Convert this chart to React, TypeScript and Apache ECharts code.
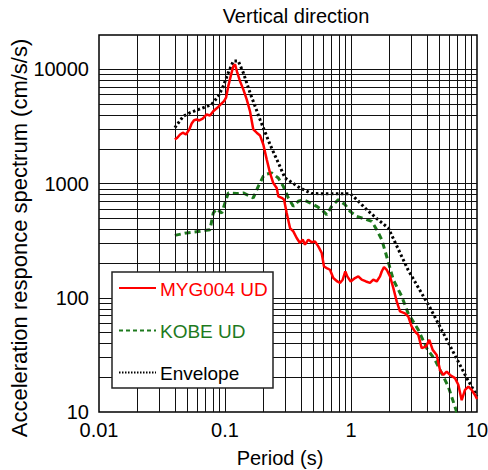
import React, { useEffect, useRef } from "react";
import * as echarts from "echarts";

const mygPeriod = [0.04, 0.0418, 0.044, 0.0462, 0.049, 0.0521, 0.0544, 0.0568, 0.0596, 0.0625, 0.0665, 0.0716, 0.076, 0.0807, 0.0869, 0.0924, 0.0982, 0.1019, 0.1062, 0.111, 0.1164, 0.1201, 0.1252, 0.1315, 0.1397, 0.1487, 0.1579, 0.1677, 0.1785, 0.1896, 0.2014, 0.2143, 0.2276, 0.2416, 0.2572, 0.2649, 0.2818, 0.2939, 0.3088, 0.3281, 0.3484, 0.3707, 0.3937, 0.4137, 0.4314, 0.4581, 0.4875, 0.5176, 0.55, 0.5853, 0.6105, 0.6414, 0.6813, 0.7235, 0.7786, 0.8179, 0.8593, 0.9011, 0.9346, 0.9945, 1.076, 1.143, 1.216, 1.315, 1.415, 1.503, 1.6, 1.699, 1.753, 1.828, 1.92, 2.04, 2.166, 2.305, 2.448, 2.683, 2.85, 3.031, 3.221, 3.421, 3.64, 3.937, 4.181, 4.451, 4.787, 5.086, 5.401, 5.746, 6.107, 6.69, 7.107, 7.56, 8.031, 8.546, 9.077, 9.641, 10];
const mygAccel = [2430, 2520, 2690, 2790, 2690, 2980, 3360, 3590, 3640, 3570, 3700, 4030, 3950, 4300, 4610, 4930, 5270, 5650, 7130, 8730, 10700, 11070, 9350, 7890, 6680, 5460, 4300, 2980, 2790, 2640, 2200, 1630, 1240, 1010, 916, 774, 750, 724, 553, 408, 382, 334, 302, 323, 292, 323, 306, 312, 282, 247, 188, 182, 176, 149, 139, 135, 144, 170, 154, 139, 149, 154, 144, 139, 135, 144, 139, 154, 170, 186, 176, 154, 122, 93, 76, 73, 68.5, 56, 50.6, 47.3, 36.2, 37.4, 42.8, 35, 31.6, 23.3, 21.1, 22.6, 21.1, 19.8, 17.3, 12.7, 15.6, 16.7, 15.6, 14.1, 13];

const kobePeriod = [0.04, 0.0497, 0.0633, 0.076, 0.0807, 0.0859, 0.0942, 0.1, 0.1062, 0.1239, 0.1397, 0.1677, 0.1838, 0.2014, 0.2077, 0.2348, 0.2649, 0.2902, 0.318, 0.3484, 0.3817, 0.4182, 0.4727, 0.5342, 0.5853, 0.6414, 0.7028, 0.7929, 0.8962, 0.982, 1.11, 1.332, 1.46, 1.6, 1.753, 1.92, 2.166, 2.526, 2.835, 3.421, 3.99, 4.642, 5.246, 5.918, 6.903, 7.2];
const kobeAccel = [352, 370, 382, 395, 553, 600, 553, 678, 828, 817, 828, 750, 946, 1160, 1200, 1240, 1120, 946, 750, 632, 700, 724, 678, 632, 592, 535, 632, 724, 655, 571, 517, 483, 467, 395, 323, 230, 144, 103, 73.4, 52.4, 36.2, 28.6, 21.8, 16.7, 10, 9];

const envPeriod = [0.04, 0.0467, 0.0527, 0.0784, 0.0885, 0.0969, 0.1062, 0.1164, 0.1275, 0.1397, 0.1579, 0.1896, 0.2276, 0.2649, 0.2994, 0.3937, 0.4875, 0.99, 1.11, 1.332, 1.64, 1.977, 2.835, 4.24, 6.107, 8.284, 10];
const envAccel = [3085, 3890, 4170, 4930, 5830, 7130, 9350, 11830, 11830, 9350, 6250, 3640, 2200, 1520, 1120, 916, 817, 815, 724, 592, 483, 408, 176, 81.7, 37.9, 19.9, 13.8];

const xTickLabels = ["0.01", "0.1", "1", "10"];
const yTickLabels = ["10", "100", "1000", "10000"];
const xGridValues = [0.02, 0.03, 0.04, 0.05, 0.06, 0.07, 0.08, 0.09, 0.1, 0.2, 0.3, 0.4, 0.5, 0.6, 0.7, 0.8, 0.9, 1, 2, 3, 4, 5, 6, 7, 8, 9];
const yGridValues = [20, 30, 40, 50, 60, 70, 80, 90, 100, 200, 300, 400, 500, 600, 700, 800, 900, 1000, 2000, 3000, 4000, 5000, 6000, 7000, 8000, 9000, 10000];

const seriesNames = ["MYG004 UD", "KOBE UD", "Envelope"];
const RED = "#ff0000";
const GREEN = "#1e7a1e";
const FONT = '"Liberation Sans", Arial, sans-serif';

function pairs(xs: number[], ys: number[]) {
  return xs.map((x, i) => [x, ys[i]]);
}

function labelFor(list: string[]) {
  return (v: number) => {
    const hit = list.find((s) => Math.abs(Math.log10(parseFloat(s)) - Math.log10(v)) < 1e-6);
    return hit ?? "";
  };
}

export default function App() {
  const ref = useRef<HTMLDivElement>(null);
  useEffect(() => {
    document.body.style.margin = "0";
    const chart = echarts.init(ref.current!, null, { renderer: "svg" });
    const legendX = 112;
    const legendY = 272;
    const rows = [288, 330.5, 372.5];
    const option: any = {
      animation: false,
      textStyle: { fontFamily: FONT },
      grid: {
        left: 99,
        right: 11,
        top: 35,
        bottom: 58,
        show: true,
        borderColor: "#000",
        borderWidth: 1.5,
        backgroundColor: "transparent",
        containLabel: false,
        outerBoundsMode: "none",
      },
      xAxis: {
        type: "log",
        logBase: 10,
        min: 0.01,
        max: 10,
        axisLine: { show: false },
        axisTick: { show: false },
        splitLine: { show: false },
        axisLabel: { fontSize: 20, color: "#000", margin: 8, formatter: labelFor(xTickLabels), fontFamily: FONT },
      },
      yAxis: {
        type: "log",
        logBase: 10,
        min: 10,
        max: 20000,
        axisLine: { show: false },
        axisTick: { show: false },
        splitLine: { show: false },
        axisLabel: { fontSize: 20, color: "#000", margin: 10, formatter: labelFor(yTickLabels), fontFamily: FONT },
      },
      series: [
        {
          name: "grid",
          type: "line",
          data: [],
          silent: true,
          z: 1,
          markLine: {
            silent: true,
            symbol: ["none", "none"],
            label: { show: false },
            lineStyle: { color: "#111", width: 1, type: "solid" },
            emphasis: { disabled: true },
            data: [
              ...xGridValues.map((v) => ({ xAxis: v })),
              ...yGridValues.map((v) => ({ yAxis: v })),
            ],
          },
        },
        {
          name: seriesNames[2],
          type: "line",
          data: pairs(envPeriod, envAccel),
          showSymbol: false,
          symbol: "none",
          z: 3,
          lineStyle: { color: "#000", width: 3, type: [2.5, 2.5], cap: "butt" },
        },
        {
          name: seriesNames[1],
          type: "line",
          data: pairs(kobePeriod, kobeAccel),
          showSymbol: false,
          symbol: "none",
          z: 4,
          lineStyle: { color: GREEN, width: 3, type: [6, 4], cap: "butt" },
        },
        {
          name: seriesNames[0],
          type: "line",
          data: pairs(mygPeriod, mygAccel),
          showSymbol: false,
          symbol: "none",
          z: 5,
          lineStyle: { color: RED, width: 2.5 },
        },
      ],
      graphic: [
        {
          type: "text",
          x: 296,
          y: 15.5,
          z: 100,
          style: { text: "Vertical direction", font: `20px ${FONT}`, fill: "#000", align: "center", verticalAlign: "middle" },
        },
        {
          type: "text",
          x: 280,
          y: 457.5,
          z: 100,
          style: { text: "Period (s)", font: `20px ${FONT}`, fill: "#000", align: "center", verticalAlign: "middle" },
        },
        {
          type: "text",
          x: 19,
          y: 238,
          rotation: Math.PI / 2,
          z: 100,
          style: { text: "Acceleration responce spectrum (cm/s/s)", font: `22px ${FONT}`, fill: "#000", align: "center", verticalAlign: "middle" },
        },
        {
          type: "rect",
          z: 100,
          shape: { x: legendX, y: legendY, width: 161, height: 116 },
          style: { fill: "#fff", stroke: "#222", lineWidth: 1.5 },
        },
        {
          type: "line",
          z: 101,
          shape: { x1: 119, y1: rows[0], x2: 156, y2: rows[0] },
          style: { stroke: RED, lineWidth: 2 },
        },
        {
          type: "text",
          z: 101,
          x: 160,
          y: rows[0] + 1,
          style: { text: seriesNames[0], font: `19px ${FONT}`, fill: RED, align: "left", verticalAlign: "middle" },
        },
        {
          type: "line",
          z: 101,
          shape: { x1: 119, y1: rows[1], x2: 156, y2: rows[1] },
          style: { stroke: GREEN, lineWidth: 2, lineDash: [4, 3] },
        },
        {
          type: "text",
          z: 101,
          x: 160,
          y: rows[1] + 1,
          style: { text: seriesNames[1], font: `19px ${FONT}`, fill: GREEN, align: "left", verticalAlign: "middle" },
        },
        {
          type: "line",
          z: 101,
          shape: { x1: 119, y1: rows[2], x2: 156, y2: rows[2] },
          style: { stroke: "#000", lineWidth: 2, lineDash: [1.5, 1.5] },
        },
        {
          type: "text",
          z: 101,
          x: 160,
          y: rows[2] + 1,
          style: { text: seriesNames[2], font: `19px ${FONT}`, fill: "#000", align: "left", verticalAlign: "middle" },
        },
      ],
    };
    chart.setOption(option);
    return () => chart.dispose();
  }, []);
  return <div ref={ref} style={{ position: "absolute", left: 0, top: 0, width: 488, height: 470 }} />;
}
